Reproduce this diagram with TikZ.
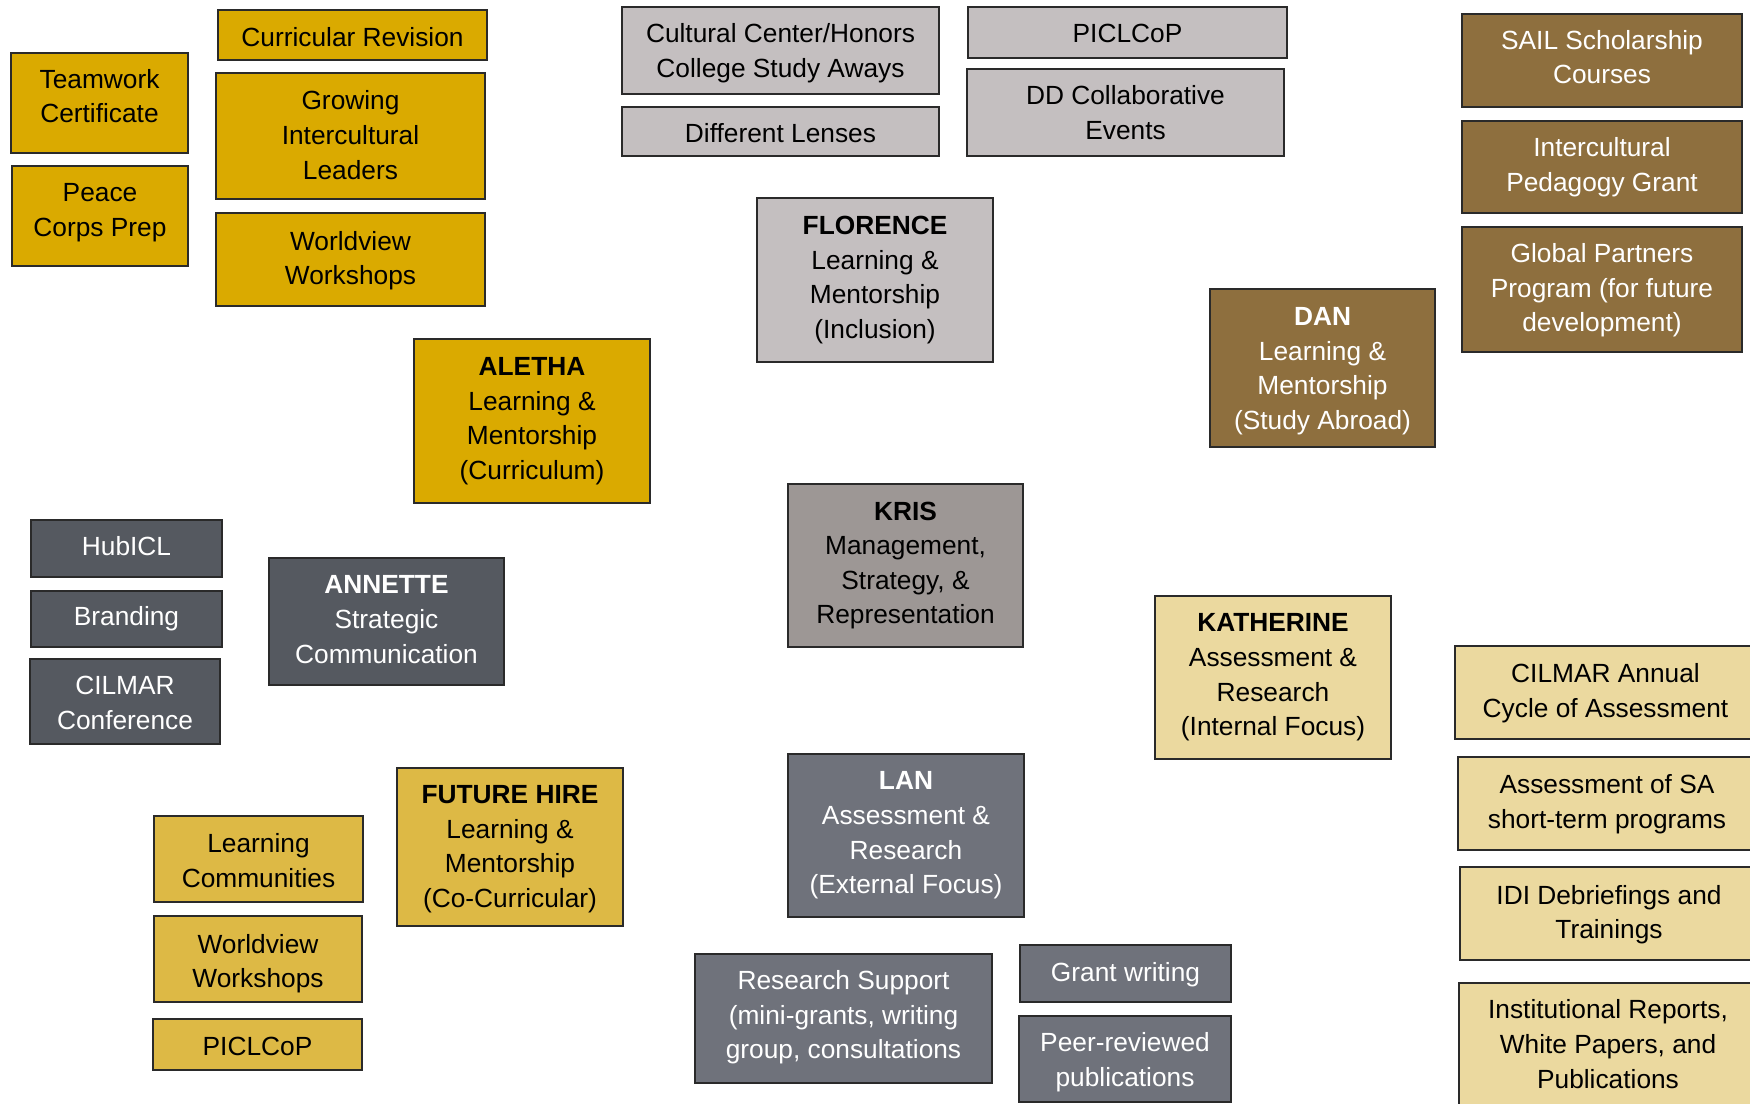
\documentclass[tikz,border=0pt]{standalone}
\usepackage{fontspec}
\setmainfont{Liberation Sans}
\definecolor{rush}{HTML}{DAAA00}
\definecolor{field}{HTML}{DDB945}
\definecolor{aged}{HTML}{8E6F3E}
\definecolor{dust}{HTML}{EBD99F}
\definecolor{steel}{HTML}{555960}
\definecolor{coolgray}{HTML}{6F727B}
\definecolor{railway}{HTML}{9D9795}
\definecolor{steam}{HTML}{C4BFC0}
\definecolor{edge}{HTML}{2A2A2A}
\tikzset{
  box/.style={draw=edge, line width=1.4pt, rectangle, inner sep=0pt},
  txt/.style={inner sep=0pt, align=center, font=\fontsize{26.3}{34.6}\selectfont},
  rushbox/.style={fill=rush},   rushtxt/.style={text=black},
  fieldbox/.style={fill=field}, fieldtxt/.style={text=black},
  agedbox/.style={fill=aged},   agedtxt/.style={text=white},
  dustbox/.style={fill=dust},   dusttxt/.style={text=black},
  steelbox/.style={fill=steel}, steeltxt/.style={text=white},
  coolbox/.style={fill=coolgray}, cooltxt/.style={text=white},
  railbox/.style={fill=railway}, railtxt/.style={text=black},
  steambox/.style={fill=steam}, steamtxt/.style={text=black}
}
% \bx{name}{x1}{y1}{x2}{y2}{group}{text shift (down, px)}{text}
\newcommand\bx[8]{%
  \node[box,#6box,minimum width={(#4-#2)*1pt},minimum height={(#5-#3)*1pt}] (#1)
    at ({(#2+#4)/2},{(#3+#5)/2}) {};
  \node[txt,#6txt] (#1-t) at ({(#2+#4)/2},{(#3+#5)/2+#7}) {#8};}
\begin{document}
\begin{tikzpicture}[x=1pt,y=-1pt]
\useasboundingbox (0,0) rectangle (1750,1103);
\fill[white] (0,0) rectangle (1750,1103);
\clip (0,0) rectangle (1750,1103);
% Rush group
\bx{curric}{218}{10}{487}{60}{rush}{2}{Curricular Revision}
\bx{teamwork}{11}{53}{188}{153}{rush}{-7}{Teamwork\\Certificate}
\bx{growing}{216}{73}{485}{199}{rush}{-1}{Growing\\Intercultural\\Leaders}
\bx{peace}{12}{166}{188}{266}{rush}{-3.5}{Peace\\Corps Prep}
\bx{worldviewa}{216}{213}{485}{306}{rush}{1}{Worldview\\Workshops}
\bx{aletha}{414}{339}{650}{503}{rush}{0}{\textbf{ALETHA}\\Learning \&\\Mentorship\\(Curriculum)}
% Steam group
\bx{cultural}{622}{7}{939}{94}{steam}{2.5}{Cultural Center/Honors\\College Study Aways}
\bx{lenses}{622}{107}{939}{156}{steam}{2}{Different Lenses}
\bx{piclcopa}{968}{7}{1287}{58}{steam}{1}{PICLCoP}
\bx{dd}{967}{69}{1284}{156}{steam}{0}{DD Collaborative\\Events}
\bx{florence}{757}{198}{993}{362}{steam}{0}{\textbf{FLORENCE}\\Learning \&\\Mentorship\\(Inclusion)}
% Aged group
\bx{sail}{1462}{14}{1742}{107}{aged}{-3.5}{SAIL Scholarship\\Courses}
\bx{pedagogy}{1462}{121}{1742}{213}{aged}{0}{Intercultural\\Pedagogy Grant}
\bx{global}{1462}{227}{1742}{352}{aged}{1}{Global Partners\\Program (for future\\development)}
\bx{dan}{1210}{289}{1435}{447}{aged}{3}{\textbf{DAN}\\Learning \&\\Mentorship\\(Study Abroad)}
% Steel group
\bx{hubicl}{31}{520}{222}{577}{steel}{-2}{HubICL}
\bx{branding}{31}{591}{222}{647}{steel}{0}{Branding}
\bx{cilmarconf}{30}{659}{220}{744}{steel}{1.5}{CILMAR\\Conference}
\bx{annette}{269}{558}{504}{685}{steel}{-2}{\textbf{ANNETTE}\\Strategic\\Communication}
% Railway
\bx{kris}{788}{484}{1023}{647}{rail}{0}{\textbf{KRIS}\\Management,\\Strategy, \&\\Representation}
% Dust group
\bx{katherine}{1155}{596}{1391}{759}{dust}{0}{\textbf{KATHERINE}\\Assessment \&\\Research\\(Internal Focus)}
\bx{cilmarannual}{1455}{646}{1756}{739}{dust}{0.5}{CILMAR Annual\\Cycle of Assessment}
\bx{assesssa}{1458}{757}{1756}{850}{dust}{0.5}{Assessment of SA\\short-term programs}
\bx{idi}{1460}{867}{1758}{960}{dust}{1}{IDI Debriefings and\\Trainings}
\bx{institutional}{1459}{983}{1757}{1105}{dust}{0}{Institutional Reports,\\White Papers, and\\Publications}
% Field group
\bx{futurehire}{397}{768}{623}{926}{field}{2}{\textbf{FUTURE HIRE}\\Learning \&\\Mentorship\\(Co-Curricular)}
\bx{learncomm}{154}{816}{363}{902}{field}{1.5}{Learning\\Communities}
\bx{worldviewb}{154}{916}{362}{1002}{field}{4.5}{Worldview\\Workshops}
\bx{piclcopb}{153}{1019}{362}{1070}{field}{2}{PICLCoP}
% Cool gray group
\bx{lan}{788}{754}{1024}{917}{cool}{0}{\textbf{LAN}\\Assessment \&\\Research\\(External Focus)}
\bx{research}{695}{954}{992}{1083}{cool}{-1}{Research Support\\(mini-grants, writing\\group, consultations}
\bx{grant}{1020}{945}{1231}{1002}{cool}{1}{Grant writing}
\bx{peer}{1019}{1016}{1231}{1102}{cool}{3}{Peer-reviewed\\publications}
\end{tikzpicture}
\end{document}
